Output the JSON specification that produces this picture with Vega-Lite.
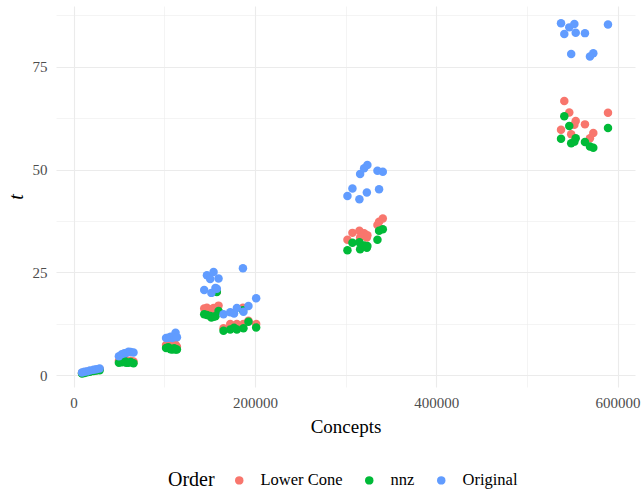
{
  "$schema": "https://vega.github.io/schema/vega-lite/v6.json",
  "autosize": {"type": "none"},
  "width": 579,
  "height": 381,
  "padding": {"left": 56, "top": 6, "right": 8, "bottom": 106},
  "background": "white",
  "config": {
    "view": {"stroke": null},
    "font": "Liberation Serif"
  },
  "datasets": {
    "pts": [
      {"Concepts": 9300, "t": 0.5, "Order": "Lower Cone"},
      {"Concepts": 12000, "t": 0.6, "Order": "Lower Cone"},
      {"Concepts": 14800, "t": 0.8, "Order": "Lower Cone"},
      {"Concepts": 18000, "t": 0.9, "Order": "Lower Cone"},
      {"Concepts": 22000, "t": 1.1, "Order": "Lower Cone"},
      {"Concepts": 25000, "t": 1.2, "Order": "Lower Cone"},
      {"Concepts": 28700, "t": 1.4, "Order": "Lower Cone"},
      {"Concepts": 50000, "t": 3.5, "Order": "Lower Cone"},
      {"Concepts": 53400, "t": 3.7, "Order": "Lower Cone"},
      {"Concepts": 56000, "t": 3.9, "Order": "Lower Cone"},
      {"Concepts": 58000, "t": 3.6, "Order": "Lower Cone"},
      {"Concepts": 60600, "t": 3.4, "Order": "Lower Cone"},
      {"Concepts": 63000, "t": 3.5, "Order": "Lower Cone"},
      {"Concepts": 66100, "t": 3.3, "Order": "Lower Cone"},
      {"Concepts": 102000, "t": 7.3, "Order": "Lower Cone"},
      {"Concepts": 104500, "t": 7.6, "Order": "Lower Cone"},
      {"Concepts": 107000, "t": 7.0, "Order": "Lower Cone"},
      {"Concepts": 109000, "t": 7.2, "Order": "Lower Cone"},
      {"Concepts": 111000, "t": 7.5, "Order": "Lower Cone"},
      {"Concepts": 112500, "t": 7.4, "Order": "Lower Cone"},
      {"Concepts": 114000, "t": 6.9, "Order": "Lower Cone"},
      {"Concepts": 144100, "t": 16.2, "Order": "Lower Cone"},
      {"Concepts": 147100, "t": 16.4, "Order": "Lower Cone"},
      {"Concepts": 150700, "t": 16.0, "Order": "Lower Cone"},
      {"Concepts": 152000, "t": 15.5, "Order": "Lower Cone"},
      {"Concepts": 154400, "t": 16.3, "Order": "Lower Cone"},
      {"Concepts": 156500, "t": 15.8, "Order": "Lower Cone"},
      {"Concepts": 158000, "t": 20.3, "Order": "Lower Cone"},
      {"Concepts": 159900, "t": 16.9, "Order": "Lower Cone"},
      {"Concepts": 165400, "t": 11.4, "Order": "Lower Cone"},
      {"Concepts": 172800, "t": 12.4, "Order": "Lower Cone"},
      {"Concepts": 177000, "t": 12.0, "Order": "Lower Cone"},
      {"Concepts": 180100, "t": 12.4, "Order": "Lower Cone"},
      {"Concepts": 186800, "t": 16.4, "Order": "Lower Cone"},
      {"Concepts": 187400, "t": 12.4, "Order": "Lower Cone"},
      {"Concepts": 192900, "t": 13.2, "Order": "Lower Cone"},
      {"Concepts": 201400, "t": 12.4, "Order": "Lower Cone"},
      {"Concepts": 302100, "t": 32.9, "Order": "Lower Cone"},
      {"Concepts": 307600, "t": 34.6, "Order": "Lower Cone"},
      {"Concepts": 315300, "t": 35.1, "Order": "Lower Cone"},
      {"Concepts": 316100, "t": 33.5, "Order": "Lower Cone"},
      {"Concepts": 320500, "t": 34.5, "Order": "Lower Cone"},
      {"Concepts": 323500, "t": 33.5, "Order": "Lower Cone"},
      {"Concepts": 324100, "t": 34.0, "Order": "Lower Cone"},
      {"Concepts": 335200, "t": 36.5, "Order": "Lower Cone"},
      {"Concepts": 337000, "t": 37.3, "Order": "Lower Cone"},
      {"Concepts": 341100, "t": 38.1, "Order": "Lower Cone"},
      {"Concepts": 537700, "t": 59.7, "Order": "Lower Cone"},
      {"Concepts": 541300, "t": 66.7, "Order": "Lower Cone"},
      {"Concepts": 546800, "t": 63.9, "Order": "Lower Cone"},
      {"Concepts": 548900, "t": 58.6, "Order": "Lower Cone"},
      {"Concepts": 552400, "t": 60.9, "Order": "Lower Cone"},
      {"Concepts": 553900, "t": 61.8, "Order": "Lower Cone"},
      {"Concepts": 564100, "t": 61.0, "Order": "Lower Cone"},
      {"Concepts": 569600, "t": 57.6, "Order": "Lower Cone"},
      {"Concepts": 573300, "t": 58.9, "Order": "Lower Cone"},
      {"Concepts": 589500, "t": 63.8, "Order": "Lower Cone"},

      {"Concepts": 9300, "t": 0.4, "Order": "nnz"},
      {"Concepts": 12000, "t": 0.5, "Order": "nnz"},
      {"Concepts": 14800, "t": 0.7, "Order": "nnz"},
      {"Concepts": 18000, "t": 0.8, "Order": "nnz"},
      {"Concepts": 22000, "t": 1.0, "Order": "nnz"},
      {"Concepts": 25000, "t": 1.1, "Order": "nnz"},
      {"Concepts": 28700, "t": 1.2, "Order": "nnz"},
      {"Concepts": 50000, "t": 3.0, "Order": "nnz"},
      {"Concepts": 53400, "t": 3.1, "Order": "nnz"},
      {"Concepts": 56000, "t": 3.5, "Order": "nnz"},
      {"Concepts": 58000, "t": 3.0, "Order": "nnz"},
      {"Concepts": 60600, "t": 3.0, "Order": "nnz"},
      {"Concepts": 63000, "t": 3.2, "Order": "nnz"},
      {"Concepts": 66100, "t": 2.9, "Order": "nnz"},
      {"Concepts": 102000, "t": 6.6, "Order": "nnz"},
      {"Concepts": 104500, "t": 6.8, "Order": "nnz"},
      {"Concepts": 107000, "t": 6.3, "Order": "nnz"},
      {"Concepts": 109000, "t": 6.2, "Order": "nnz"},
      {"Concepts": 111000, "t": 6.5, "Order": "nnz"},
      {"Concepts": 112500, "t": 6.2, "Order": "nnz"},
      {"Concepts": 114000, "t": 6.2, "Order": "nnz"},
      {"Concepts": 144100, "t": 14.8, "Order": "nnz"},
      {"Concepts": 147100, "t": 14.6, "Order": "nnz"},
      {"Concepts": 150700, "t": 14.4, "Order": "nnz"},
      {"Concepts": 152000, "t": 14.0, "Order": "nnz"},
      {"Concepts": 154400, "t": 14.2, "Order": "nnz"},
      {"Concepts": 156500, "t": 14.3, "Order": "nnz"},
      {"Concepts": 158000, "t": 20.2, "Order": "nnz"},
      {"Concepts": 159900, "t": 15.6, "Order": "nnz"},
      {"Concepts": 165400, "t": 10.8, "Order": "nnz"},
      {"Concepts": 172800, "t": 11.1, "Order": "nnz"},
      {"Concepts": 177000, "t": 11.5, "Order": "nnz"},
      {"Concepts": 180100, "t": 11.1, "Order": "nnz"},
      {"Concepts": 186800, "t": 15.8, "Order": "nnz"},
      {"Concepts": 187400, "t": 11.4, "Order": "nnz"},
      {"Concepts": 192900, "t": 13.0, "Order": "nnz"},
      {"Concepts": 201400, "t": 11.6, "Order": "nnz"},
      {"Concepts": 302100, "t": 30.4, "Order": "nnz"},
      {"Concepts": 307600, "t": 32.2, "Order": "nnz"},
      {"Concepts": 315300, "t": 32.3, "Order": "nnz"},
      {"Concepts": 316100, "t": 30.6, "Order": "nnz"},
      {"Concepts": 320500, "t": 31.5, "Order": "nnz"},
      {"Concepts": 323500, "t": 31.0, "Order": "nnz"},
      {"Concepts": 324100, "t": 31.4, "Order": "nnz"},
      {"Concepts": 335200, "t": 32.9, "Order": "nnz"},
      {"Concepts": 337000, "t": 35.1, "Order": "nnz"},
      {"Concepts": 341100, "t": 35.5, "Order": "nnz"},
      {"Concepts": 537700, "t": 57.5, "Order": "nnz"},
      {"Concepts": 541300, "t": 63.0, "Order": "nnz"},
      {"Concepts": 546800, "t": 60.6, "Order": "nnz"},
      {"Concepts": 548900, "t": 56.4, "Order": "nnz"},
      {"Concepts": 552400, "t": 56.8, "Order": "nnz"},
      {"Concepts": 553900, "t": 57.6, "Order": "nnz"},
      {"Concepts": 564100, "t": 56.7, "Order": "nnz"},
      {"Concepts": 569600, "t": 55.6, "Order": "nnz"},
      {"Concepts": 573300, "t": 55.3, "Order": "nnz"},
      {"Concepts": 589500, "t": 60.1, "Order": "nnz"},

      {"Concepts": 9300, "t": 0.6, "Order": "Original"},
      {"Concepts": 12000, "t": 0.8, "Order": "Original"},
      {"Concepts": 14800, "t": 0.9, "Order": "Original"},
      {"Concepts": 18000, "t": 1.1, "Order": "Original"},
      {"Concepts": 22000, "t": 1.3, "Order": "Original"},
      {"Concepts": 25000, "t": 1.4, "Order": "Original"},
      {"Concepts": 28700, "t": 1.6, "Order": "Original"},
      {"Concepts": 50000, "t": 4.6, "Order": "Original"},
      {"Concepts": 53400, "t": 5.1, "Order": "Original"},
      {"Concepts": 56000, "t": 5.3, "Order": "Original"},
      {"Concepts": 58000, "t": 5.4, "Order": "Original"},
      {"Concepts": 60600, "t": 5.7, "Order": "Original"},
      {"Concepts": 63000, "t": 5.6, "Order": "Original"},
      {"Concepts": 66100, "t": 5.5, "Order": "Original"},
      {"Concepts": 102000, "t": 9.0, "Order": "Original"},
      {"Concepts": 104500, "t": 9.1, "Order": "Original"},
      {"Concepts": 107000, "t": 9.3, "Order": "Original"},
      {"Concepts": 109000, "t": 9.0, "Order": "Original"},
      {"Concepts": 111000, "t": 9.5, "Order": "Original"},
      {"Concepts": 112500, "t": 10.3, "Order": "Original"},
      {"Concepts": 114000, "t": 9.2, "Order": "Original"},
      {"Concepts": 144100, "t": 20.7, "Order": "Original"},
      {"Concepts": 147100, "t": 24.3, "Order": "Original"},
      {"Concepts": 150700, "t": 23.4, "Order": "Original"},
      {"Concepts": 152000, "t": 20.0, "Order": "Original"},
      {"Concepts": 154400, "t": 25.1, "Order": "Original"},
      {"Concepts": 156500, "t": 21.2, "Order": "Original"},
      {"Concepts": 158000, "t": 21.0, "Order": "Original"},
      {"Concepts": 159900, "t": 23.5, "Order": "Original"},
      {"Concepts": 165400, "t": 14.8, "Order": "Original"},
      {"Concepts": 172800, "t": 15.3, "Order": "Original"},
      {"Concepts": 177000, "t": 15.0, "Order": "Original"},
      {"Concepts": 180100, "t": 16.3, "Order": "Original"},
      {"Concepts": 186800, "t": 26.0, "Order": "Original"},
      {"Concepts": 187400, "t": 15.4, "Order": "Original"},
      {"Concepts": 192900, "t": 16.8, "Order": "Original"},
      {"Concepts": 201400, "t": 18.7, "Order": "Original"},
      {"Concepts": 302100, "t": 43.6, "Order": "Original"},
      {"Concepts": 307600, "t": 45.4, "Order": "Original"},
      {"Concepts": 315300, "t": 42.8, "Order": "Original"},
      {"Concepts": 316100, "t": 48.9, "Order": "Original"},
      {"Concepts": 320500, "t": 50.3, "Order": "Original"},
      {"Concepts": 323500, "t": 44.4, "Order": "Original"},
      {"Concepts": 324100, "t": 51.1, "Order": "Original"},
      {"Concepts": 335200, "t": 49.7, "Order": "Original"},
      {"Concepts": 337000, "t": 45.2, "Order": "Original"},
      {"Concepts": 341100, "t": 49.5, "Order": "Original"},
      {"Concepts": 537700, "t": 85.6, "Order": "Original"},
      {"Concepts": 541300, "t": 83.0, "Order": "Original"},
      {"Concepts": 546800, "t": 84.6, "Order": "Original"},
      {"Concepts": 548900, "t": 78.1, "Order": "Original"},
      {"Concepts": 552400, "t": 85.4, "Order": "Original"},
      {"Concepts": 553900, "t": 83.3, "Order": "Original"},
      {"Concepts": 564100, "t": 83.2, "Order": "Original"},
      {"Concepts": 569600, "t": 77.5, "Order": "Original"},
      {"Concepts": 573300, "t": 78.3, "Order": "Original"},
      {"Concepts": 589500, "t": 85.3, "Order": "Original"}
    ]
  },
  "data": {"name": "pts"},
  "mark": {"type": "point", "filled": true, "opacity": 1, "size": 72},
  "encoding": {
    "x": {
      "field": "Concepts",
      "type": "quantitative",
      "scale": {"domain": [-19400, 619300], "nice": false, "zero": false},
      "axis": {
        "values": [0, 100000, 200000, 300000, 400000, 500000, 600000],
        "labelExpr": "datum.value % 200000 === 0 ? datum.value : ''",
        "domain": false,
        "ticks": false,
        "gridColor": "#EBEBEB",
        "gridWidth": {"condition": {"test": "datum.value % 200000 === 0", "value": 1.1}, "value": 0.55},
        "labelFont": "Liberation Serif",
        "labelFontSize": 15,
        "labelColor": "#4D4D4D",
        "labelPadding": 8,
        "labelFlush": false,
        "title": "Concepts",
        "titleFont": "Liberation Serif",
        "titleFontSize": 19,
        "titleFontWeight": "normal",
        "titleColor": "#000000",
        "titlePadding": 7
      }
    },
    "y": {
      "field": "t",
      "type": "quantitative",
      "scale": {"domain": [-2.9, 89.8], "nice": false, "zero": false},
      "axis": {
        "values": [0, 12.5, 25, 37.5, 50, 62.5, 75, 87.5],
        "labelExpr": "datum.value % 25 === 0 ? datum.value : ''",
        "domain": false,
        "ticks": false,
        "gridColor": "#EBEBEB",
        "gridWidth": {"condition": {"test": "datum.value % 25 === 0", "value": 1.1}, "value": 0.55},
        "labelFont": "Liberation Serif",
        "labelFontSize": 15,
        "labelColor": "#4D4D4D",
        "labelPadding": 9,
        "labelFlush": false,
        "title": "t",
        "titleFont": "Liberation Serif",
        "titleFontSize": 20,
        "titleFontStyle": "italic",
        "titleFontWeight": "normal",
        "titleColor": "#000000",
        "titlePadding": 6
      }
    },
    "color": {
      "field": "Order",
      "type": "nominal",
      "scale": {"domain": ["Lower Cone", "nnz", "Original"], "range": ["#F8766D", "#00BA38", "#619CFF"]},
      "legend": {
        "orient": "none",
        "legendX": 112,
        "legendY": 466,
        "direction": "horizontal",
        "titleOrient": "left",
        "title": "Order",
        "titleFont": "Liberation Serif",
        "titleFontSize": 20,
        "titleFontWeight": "normal",
        "titleColor": "#000000",
        "titlePadding": 16,
        "labelFont": "Liberation Serif",
        "labelFontSize": 16.5,
        "labelColor": "#000000",
        "symbolType": "circle",
        "symbolSize": 72,
        "symbolOpacity": 1,
        "columnPadding": 18,
        "labelOffset": 13
      }
    }
  }
}
